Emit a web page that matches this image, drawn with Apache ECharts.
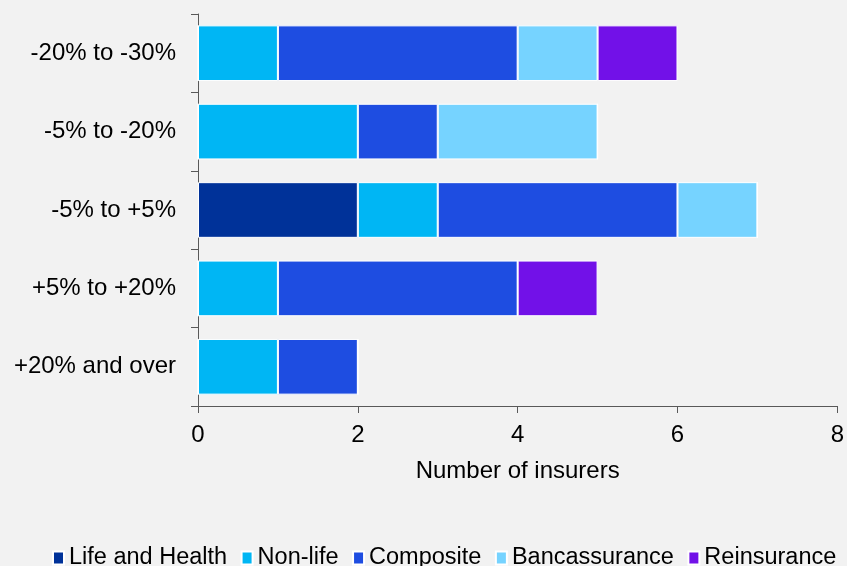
<!DOCTYPE html>
<html><head><meta charset="utf-8">
<script src="https://cdn.jsdelivr.net/npm/echarts@6/dist/echarts.min.js"></script>
<style>html,body{margin:0;padding:0;background:#f2f2f2;}#c{width:847px;height:566px;}</style>
</head><body><div id="c"></div>
<script>
const categories = ['-20% to -30%', '-5% to -20%', '-5% to +5%', '+5% to +20%', '+20% and over'];
const seriesNames = ['Life and Health', 'Non-life', 'Composite', 'Bancassurance', 'Reinsurance'];
const lifeHealth = [0, 0, 2, 0, 0];
const nonLife = [1, 2, 1, 1, 1];
const composite = [3, 1, 3, 3, 1];
const bancassurance = [1, 2, 1, 0, 0];
const reinsurance = [1, 0, 0, 1, 0];
const xTicks = [0, 2, 4, 6, 8];
const colors = ['#003299', '#00b6f4', '#1e4de1', '#76d3ff', '#7211e8'];

const values = [lifeHealth, nonLife, composite, bancassurance, reinsurance];
const FONT = '"Liberation Sans", Arial, sans-serif';
const chart = echarts.init(document.getElementById('c'));
chart.setOption({
  backgroundColor: '#f2f2f2',
  animation: false,
  color: colors,
  grid: {left: 198, right: 7, top: 14, bottom: 160, containLabel: false},
  legend: {
    data: seriesNames, left: 50, top: 544, width: 840, padding: 2,
    icon: 'rect', itemWidth: 11, itemHeight: 13, itemGap: 13.5,
    textStyle: {fontFamily: FONT, fontSize: 23.5, color: '#000'}
  },
  xAxis: {
    type: 'value', min: xTicks[0], max: xTicks[xTicks.length - 1], interval: 2,
    name: 'Number of insurers', nameLocation: 'middle', nameGap: 53,
    nameTextStyle: {fontFamily: FONT, fontSize: 24, color: '#000'},
    axisLine: {show: true, lineStyle: {color: '#595959', width: 1}},
    axisTick: {show: true, length: 7, lineStyle: {color: '#595959'}},
    splitLine: {show: false},
    axisLabel: {fontFamily: FONT, fontSize: 24, color: '#000', margin: 17}
  },
  yAxis: {
    type: 'category', data: categories, inverse: true,
    axisLine: {show: true, lineStyle: {color: '#595959', width: 1}},
    axisTick: {show: true, length: 7, lineStyle: {color: '#595959'}},
    axisLabel: {fontFamily: FONT, fontSize: 24, color: '#000', margin: 22}
  },
  series: seriesNames.map((n, i) => ({
    name: n, type: 'bar', stack: 'total', data: values[i],
    barCategoryGap: '29%',
    itemStyle: {color: colors[i], borderColor: '#ffffff', borderWidth: 1}
  }))
});
</script></body></html>
